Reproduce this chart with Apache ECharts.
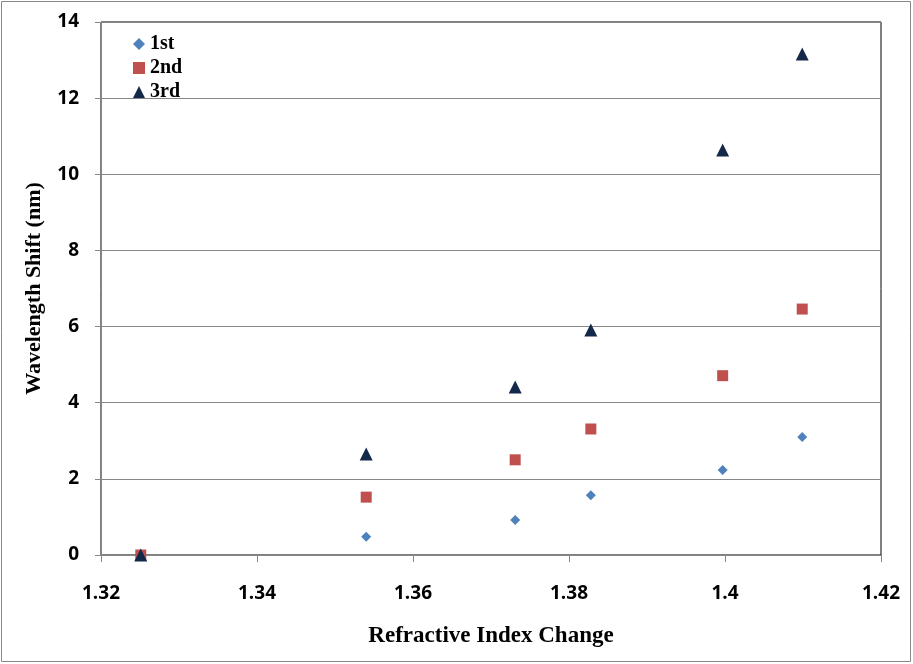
<!DOCTYPE html>
<html><head><meta charset="utf-8">
<script src="https://cdn.jsdelivr.net/npm/echarts@6/dist/echarts.min.js"></script>
<style>html,body{margin:0;padding:0;background:#fff}#c{width:913px;height:664px}</style>
</head><body><div id="c"></div>
<script>
const xValues = [1.3251, 1.354, 1.3731, 1.3828, 1.3997, 1.4099];
const first = [0, 0.48, 0.92, 1.57, 2.23, 3.1];
const second = [0, 1.52, 2.5, 3.31, 4.71, 6.46];
const third = [0, 2.65, 4.41, 5.91, 10.64, 13.16];
const seriesNames = ['1st', '2nd', '3rd'];
const xTicks = [1.32, 1.34, 1.36, 1.38, 1.4, 1.42];
const yTicks = [0, 2, 4, 6, 8, 10, 12, 14];

const chart = echarts.init(document.getElementById('c'));
const pair = arr => xValues.map((x, i) => [x, arr[i]]);
const tickFont = {fontFamily: 'Open Sans', fontWeight: 'bold', fontSize: 19, color: '#000'};
chart.setOption({
  animation: false,
  graphic: [{type: 'rect', shape: {x: 1.5, y: 1.5, width: 909, height: 660}, style: {fill: 'none', stroke: '#888', lineWidth: 1}, z: -1}],
  grid: {left: 101, right: 32, top: 22, bottom: 109, show: true, borderColor: '#000', borderWidth: 1},
  legend: {
    orient: 'vertical', left: 128, top: 29, itemGap: 4, itemWidth: 12, itemHeight: 12,
    textStyle: {fontFamily: 'Liberation Serif', fontWeight: 'bold', fontSize: 20, color: '#000', padding: [0, 0, 0, 0]},
    data: [{name: seriesNames[0], icon: 'diamond'}, {name: seriesNames[1], icon: 'rect'}, {name: seriesNames[2], icon: 'triangle'}]
  },
  xAxis: {
    type: 'value', min: 1.32, max: 1.42, interval: 0.02,
    name: 'Refractive Index Change', nameLocation: 'middle', nameGap: 70,
    nameTextStyle: {fontFamily: 'Liberation Serif', fontWeight: 'bold', fontSize: 23, color: '#000'},
    axisLine: {show: true, lineStyle: {color: '#868686'}},
    axisTick: {show: true, length: 7, lineStyle: {color: '#868686'}},
    axisLabel: Object.assign({margin: 29, formatter: v => { const t = xTicks.find(k => Math.abs(k - v) < 1e-9); return t === undefined ? '' : String(t); }}, tickFont),
    splitLine: {show: false}
  },
  yAxis: {
    type: 'value', min: 0, max: 14, interval: 2,
    name: 'Wavelength Shift (nm)', nameLocation: 'middle', nameGap: 56,
    nameTextStyle: {fontFamily: 'Liberation Serif', fontWeight: 'bold', fontSize: 22, color: '#000'},
    axisLine: {show: true, lineStyle: {color: '#868686'}},
    axisTick: {show: true, length: 6, lineStyle: {color: '#868686'}},
    axisLabel: Object.assign({margin: 22, formatter: v => { const t = yTicks.find(k => Math.abs(k - v) < 1e-9); return t === undefined ? '' : String(t); }}, tickFont),
    splitLine: {show: true, lineStyle: {color: '#868686', width: 1}}
  },
  series: [
    {name: seriesNames[0], type: 'scatter', symbol: 'diamond', symbolSize: 10, itemStyle: {color: '#4F81BD', opacity: 1}, data: pair(first)},
    {name: seriesNames[1], type: 'scatter', symbol: 'rect', symbolSize: 11, itemStyle: {color: '#C0504D', opacity: 1}, data: pair(second)},
    {name: seriesNames[2], type: 'scatter', symbol: 'triangle', symbolSize: 13, itemStyle: {color: '#14284A', opacity: 1}, data: pair(third)}
  ]
});
</script></body></html>
